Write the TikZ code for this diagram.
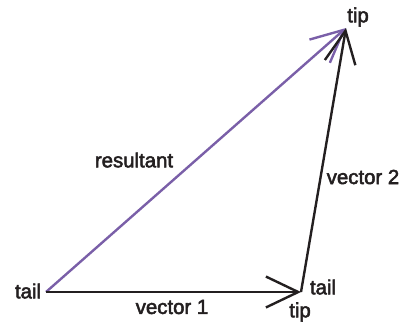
\documentclass[tikz,border=0pt]{standalone}
\usepackage{fontspec}
\newfontfamily\lblfont[FakeBold=2.5]{Liberation Sans}
\usepackage{tikz}
\usetikzlibrary{arrows.meta,calc}
\usepackage{xcolor}
\definecolor{resultcol}{HTML}{7A5FA8}
\definecolor{inkcol}{HTML}{231F20}

\begin{document}
\begin{tikzpicture}[x=0.025cm, y=-0.025cm, >={Straight Barb[length=23pt, width=22pt, line width=1.7pt]},
    vec/.style={line width=1.7pt, color=inkcol, ->},
    lbl/.style={font=\lblfont\fontsize{14.5}{16}\selectfont, text=inkcol, inner sep=0pt}]
    \useasboundingbox (0,0) rectangle (400,324);
    \coordinate (A) at (46,292);
    \coordinate (B) at (301,292);
    \coordinate (C) at (346,28);

    \draw[vec, color=resultcol] (A) -- (C);
    \draw[vec] (A) -- (B);
    \draw[vec] (B) -- (C);

    % Labels
    \node[lbl] (tailA) at (28,291) {tail};
    \node[lbl] (vecone) at (172,307) {vector 1};
    \node[lbl] (tipB) at (300,312) {tip};
    \node[lbl] (tailB) at (323,287) {tail};
    \node[lbl] (vectwo) at (363,177) {vector 2};
    \node[lbl] (result) at (134,160) {resultant};
    \node[lbl] (tipC) at (358,17) {tip};
\end{tikzpicture}
\end{document}
